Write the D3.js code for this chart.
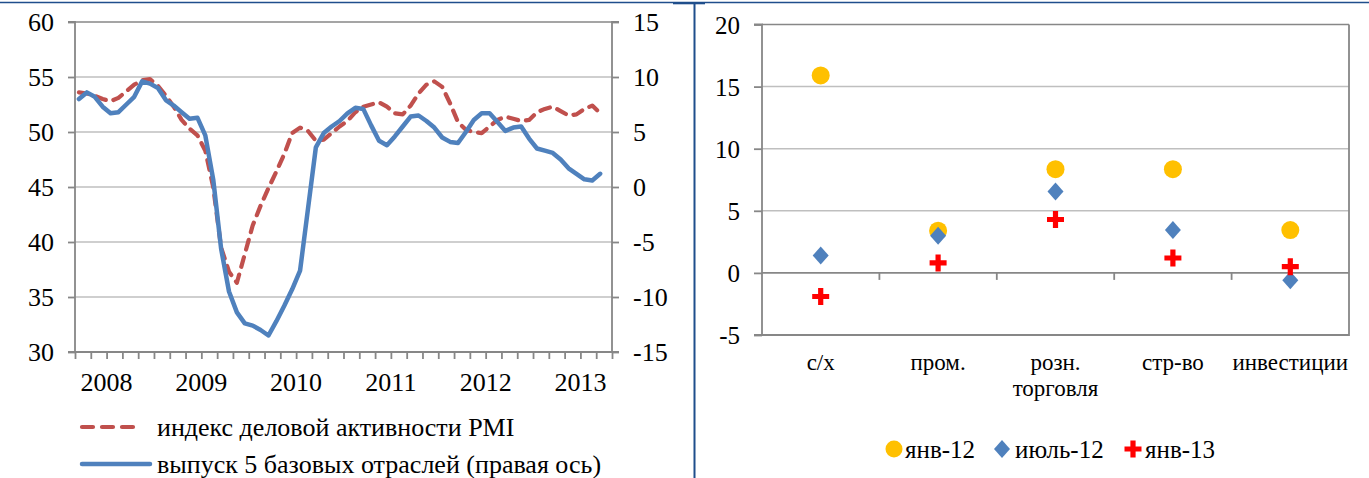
<!DOCTYPE html>
<html>
<head>
<meta charset="utf-8">
<script src="https://cdn.jsdelivr.net/npm/d3@7"></script>
</head>
<body style="margin:0">
<div id="chart"></div>
<script>
// left chart: monthly series, Sep 2007 .. Mar 2013
var pmi = [53.6, 53.5, 53.3, 53.0, 52.8, 53.1, 53.7, 54.3, 54.7, 54.8,
	54.2, 53.3, 52.3, 51.1, 50.3, 49.7, 48.3, 45.0, 39.5, 37.3,
	36.3, 38.9, 41.5, 43.3, 44.9, 46.4, 48.0, 49.9, 50.4, 50.1,
	49.2, 49.3, 49.9, 50.5, 51.0, 51.8, 52.3, 52.5, 52.7, 52.3,
	51.7, 51.6, 52.4, 53.5, 54.3, 54.6, 54.1, 52.6, 50.9, 50.2,
	50.0, 49.9, 50.5, 51.1, 51.4, 51.2, 51.0, 51.1, 51.8, 52.1,
	52.3, 51.9, 51.5, 51.6, 52.1, 52.4, 51.7];
var output5 = [8.0, 8.6, 8.2, 7.3, 6.7, 6.8, 7.5, 8.2, 9.6, 9.4,
	9.0, 7.9, 7.4, 6.8, 6.2, 6.3, 4.7, 0.7, -5.6, -9.5,
	-11.4, -12.4, -12.6, -13.0, -13.5, -12.2, -10.8, -9.3, -7.6, -2.0,
	3.6, 4.9, 5.5, 6.0, 6.7, 7.2, 7.1, 5.6, 4.2, 3.8,
	4.6, 5.5, 6.4, 6.5, 6.0, 5.4, 4.5, 4.1, 4.0, 5.0,
	6.1, 6.7, 6.7, 5.9, 5.1, 5.4, 5.5, 4.4, 3.5, 3.3,
	3.1, 2.5, 1.7, 1.2, 0.7, 0.6, 1.2];
var years = ["2008", "2009", "2010", "2011", "2012", "2013"];
var leftTicks = [30, 35, 40, 45, 50, 55, 60];
var rightTicks = [-15, -10, -5, 0, 5, 10, 15];

// right chart: growth by sector
var sectors = [["с/х"], ["пром."], ["розн.", "торговля"], ["стр-во"], ["инвестиции"]];
var jan12 = [15.9, 3.4, 8.35, 8.35, 3.45];
var jul12 = [1.4, 3.0, 6.55, 3.45, -0.6];
var jan13 = [-1.9, 0.8, 4.3, 1.2, 0.5];
var sectorTicks = [-5, 0, 5, 10, 15, 20];

var svgWidth = 1369;
var svgHeight = 478;

var svg = d3.select("#chart").append("svg")
	.attr("width", svgWidth)
	.attr("height", svgHeight);

var gridColor = "#bfbfbf";
var axisColor = "#878787";
var red = "#c0504d";
var blue = "#4f81bd";

// all labels are appended straight onto the svg, font set inline
function label(xPos, yPos, str, size, anchor) {
	return svg.append("text")
		.attr("x", xPos)
		.attr("y", yPos)
		.attr("text-anchor", anchor || "start")
		.style("font-family", '"Liberation Serif"')
		.style("font-size", size + "px")
		.text(str);
}

// ---------- left chart ----------
var L = { left: 75, right: 612, top: 22, bottom: 352 };
var x = d3.scaleLinear().domain([-0.5, 67.5]).range([L.left, L.right]);
var yL = d3.scaleLinear().domain([30, 60]).range([L.bottom, L.top]);
var yR = d3.scaleLinear().domain([-15, 15]).range([L.bottom, L.top]);

var leftG = svg.append("g");

// gridlines
leftG.selectAll(".grid")
	.data(leftTicks.filter(d => d > 30))
	.enter()
	.append("line")
	.attr("x1", L.left).attr("x2", L.right)
	.attr("y1", d => yL(d)).attr("y2", d => yL(d))
	.attr("stroke", d => d === 60 ? axisColor : gridColor)
	.attr("stroke-width", 1.5);

// axes (lines and ticks only, labels drawn below)
var leftAxis = d3.axisLeft(yL).tickValues(leftTicks).tickSize(7).tickFormat("");
var rightAxis = d3.axisRight(yR).tickValues(rightTicks).tickSize(7).tickFormat("");
var bottomAxis = d3.axisBottom(x).tickValues(d3.range(-0.5, 68, 2)).tickSize(7).tickFormat("");

function styleAxis(g) {
	g.selectAll("path, line").attr("stroke", axisColor).attr("stroke-width", 1.8);
}

leftG.append("g")
	.attr("transform", `translate(${L.left},0)`)
	.call(leftAxis).call(styleAxis)
	.call(g => g.select(".domain").attr("d", `M-7,${L.top}H0V${L.bottom}H-7`));

leftG.append("g")
	.attr("transform", `translate(${L.right},0)`)
	.call(rightAxis).call(styleAxis)
	.call(g => g.select(".domain").attr("d", `M7,${L.top}H0V${L.bottom}H7`));

leftG.append("g")
	.attr("transform", `translate(0,${L.bottom})`)
	.call(bottomAxis).call(styleAxis)
	.call(g => g.select(".domain").attr("d", `M${L.left},0H${L.right}`));

// tick labels
leftTicks.forEach(d => label(L.left - 21, yL(d) + 9, d, 26, "end"));
rightTicks.forEach(d => label(L.right + 21, yR(d) + 9, d, 26, "start"));
years.forEach((d, i) => label(x(3.5 + 12 * i), 391, d, 26, "middle"));

// lines
var pmiLine = d3.line().x((d, i) => x(i)).y(d => yL(d));
var outLine = d3.line().x((d, i) => x(i)).y(d => yR(d));

leftG.append("path")
	.datum(pmi)
	.attr("d", pmiLine)
	.attr("fill", "none")
	.attr("stroke", red)
	.attr("stroke-width", 4.2)
	.attr("stroke-dasharray", "10,8")
	.attr("stroke-linecap", "round")
	.attr("stroke-linejoin", "round");

leftG.append("path")
	.datum(output5)
	.attr("d", outLine)
	.attr("fill", "none")
	.attr("stroke", blue)
	.attr("stroke-width", 4.5)
	.attr("stroke-linecap", "round")
	.attr("stroke-linejoin", "round");

// legend
leftG.append("line")
	.attr("x1", 82).attr("x2", 142).attr("y1", 427).attr("y2", 427)
	.attr("stroke", red).attr("stroke-width", 4.2)
	.attr("stroke-dasharray", "11,9").attr("stroke-linecap", "round");
label(157, 436, "индекс деловой активности PMI", 26);
leftG.append("line")
	.attr("x1", 82).attr("x2", 150).attr("y1", 464).attr("y2", 464)
	.attr("stroke", blue).attr("stroke-width", 4.5).attr("stroke-linecap", "round");
label(157, 473, "выпуск 5 базовых отраслей (правая ось)", 26);

// ---------- right chart ----------
var R = { left: 762, right: 1349, top: 24.5, bottom: 335 };
var xs = d3.scaleBand().domain(d3.range(sectors.length)).range([R.left, R.right]);
var ys = d3.scaleLinear().domain([-5, 20]).range([R.bottom, R.top]);

var rightG = svg.append("g");

rightG.selectAll(".grid")
	.data(sectorTicks.filter(d => d > -5))
	.enter()
	.append("line")
	.attr("x1", R.left).attr("x2", R.right)
	.attr("y1", d => ys(d)).attr("y2", d => ys(d))
	.attr("stroke", d => (d === 20 || d === 0) ? axisColor : gridColor)
	.attr("stroke-width", d => d === 0 ? 1.8 : 1.5);

var sectorAxis = d3.axisLeft(ys).tickValues(sectorTicks).tickSize(8).tickFormat("");
rightG.append("g")
	.attr("transform", `translate(${R.left},0)`)
	.call(sectorAxis).call(styleAxis)
	.call(g => g.select(".domain").attr("d", `M-8,${R.top}H0V${R.bottom}H-8`));

sectorTicks.forEach(d => label(R.left - 22, ys(d) + 9, d, 25, "end"));

// bottom and right border
rightG.append("path")
	.attr("d", `M${R.left},${R.bottom}H${R.right}V${R.top}`)
	.attr("fill", "none").attr("stroke", axisColor).attr("stroke-width", 1.8);

// category ticks on zero line
rightG.selectAll(".ctick")
	.data(d3.range(1, sectors.length))
	.enter()
	.append("line")
	.attr("x1", d => xs(d)).attr("x2", d => xs(d))
	.attr("y1", ys(0)).attr("y2", ys(0) + 7)
	.attr("stroke", axisColor).attr("stroke-width", 1.8);

var cx = i => xs(i) + xs.bandwidth() / 2;

// category labels
sectors.forEach((lines, i) => {
	lines.forEach((s, j) => label(cx(i), 370 + 26 * j, s, 23, "middle"));
});

var diamond = "M0,-9L8,0L0,9L-8,0Z";
var plus = "M-2.6,-8.5H2.6V-2.6H8.5V2.6H2.6V8.5H-2.6V2.6H-8.5V-2.6H-2.6Z";

rightG.selectAll(".jan12")
	.data(jan12)
	.enter()
	.append("circle")
	.attr("cx", (d, i) => cx(i))
	.attr("cy", d => ys(d))
	.attr("r", 9)
	.attr("fill", "#ffc000");

rightG.selectAll(".jul12")
	.data(jul12)
	.enter()
	.append("path")
	.attr("d", diamond)
	.attr("transform", (d, i) => `translate(${cx(i)},${ys(d)})`)
	.attr("fill", blue);

rightG.selectAll(".jan13")
	.data(jan13)
	.enter()
	.append("path")
	.attr("d", plus)
	.attr("transform", (d, i) => `translate(${cx(i)},${ys(d)})`)
	.attr("fill", "#ff0000");

// legend
rightG.append("circle").attr("cx", 894).attr("cy", 449).attr("r", 8.5).attr("fill", "#ffc000");
label(905, 458, "янв-12", 25);
rightG.append("path").attr("d", diamond).attr("transform", "translate(1002,449)").attr("fill", blue);
label(1015, 458, "июль-12", 25);
rightG.append("path").attr("d", plus).attr("transform", "translate(1133,449)").attr("fill", "#ff0000");
label(1145, 458, "янв-13", 25);

// page frame lines
var frame = "#1f4e8c";
svg.append("line").attr("x1", 0).attr("x2", svgWidth).attr("y1", 2.5).attr("y2", 2.5)
	.attr("stroke", frame).attr("stroke-width", 1.6);
svg.append("line").attr("x1", 694.5).attr("x2", 694.5).attr("y1", 2).attr("y2", svgHeight)
	.attr("stroke", frame).attr("stroke-width", 2);
svg.append("line").attr("x1", 673).attr("x2", 705).attr("y1", 3.2).attr("y2", 3.2)
	.attr("stroke", frame).attr("stroke-width", 2.2);
</script>
</body>
</html>
